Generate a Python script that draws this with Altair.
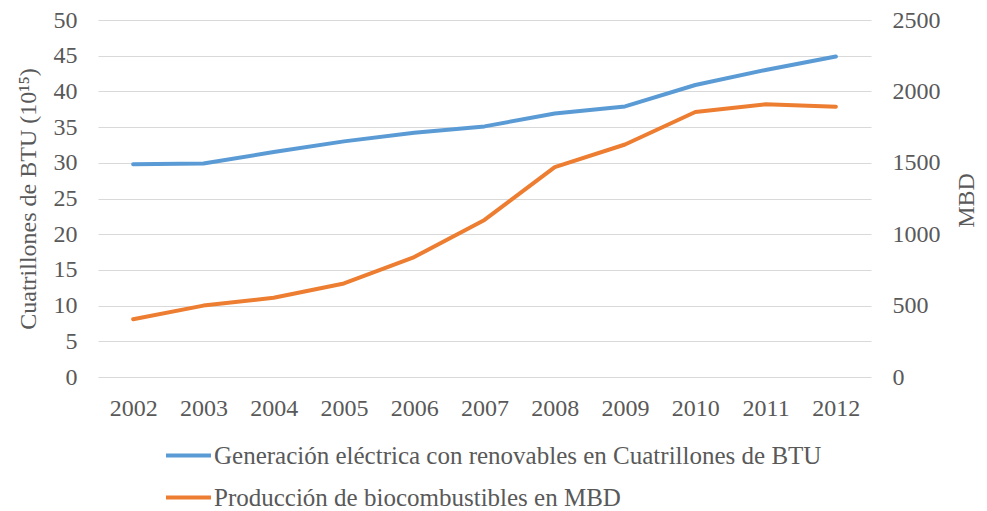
import altair as alt
import pandas as pd

years = ["2002", "2003", "2004", "2005", "2006", "2007", "2008", "2009", "2010", "2011", "2012"]
renovables = [29.8, 29.9, 31.5, 33.0, 34.2, 35.1, 36.9, 37.9, 40.9, 43.0, 44.9]
biocombustibles = [405, 500, 555, 655, 840, 1100, 1470, 1628, 1856, 1910, 1893]
series_names = [
    "Generación eléctrica con renovables en Cuatrillones de BTU",
    "Producción de biocombustibles en MBD",
]
colors = ["#5B9BD5", "#ED7D31"]
left_ticks = [0, 5, 10, 15, 20, 25, 30, 35, 40, 45, 50]
right_ticks = [0, 500, 1000, 1500, 2000, 2500]

df = pd.DataFrame({
    "year": years * 2,
    "serie": [series_names[0]] * len(years) + [series_names[1]] * len(years),
    "value": renovables + biocombustibles,
})

FONT = "Liberation Serif"
GREY = "#595959"

x = alt.X(
    "year:O", title=None,
    scale=alt.Scale(type="point", padding=0.5),
    axis=alt.Axis(labelAngle=0, ticks=False, domain=False, grid=False,
                  labelPadding=19, labelFont=FONT, labelFontSize=24, labelColor=GREY),
)

color = alt.Color(
    "serie:N",
    scale=alt.Scale(domain=series_names, range=colors),
    legend=alt.Legend(
        title=None, orient="none", legendX=66, legendY=411, direction="vertical",
        symbolType="stroke", symbolSize=2025, symbolStrokeWidth=4,
        labelFont=FONT, labelFontSize=25, labelColor=GREY, rowPadding=4,
        labelOffset=1, labelLimit=0,
    ),
)

base = alt.Chart(df)

left = base.transform_filter(alt.datum.serie == series_names[0]).mark_line(
    strokeWidth=4, strokeCap="round", strokeJoin="round"
).encode(
    x=x,
    y=alt.Y("value:Q", scale=alt.Scale(domain=[0, 50], nice=False),
            axis=alt.Axis(title="Cuatrillones de BTU (10¹⁵)", values=left_ticks,
                          grid=True, gridColor="#D9D9D9", gridWidth=1,
                          domain=False, ticks=False, labelPadding=21,
                          labelFont=FONT, labelFontSize=24, labelColor=GREY,
                          titleFont=FONT, titleFontSize=24, titleColor=GREY,
                          titleFontWeight="normal", titlePadding=13)),
    color=color,
)

right = base.transform_filter(alt.datum.serie == series_names[1]).mark_line(
    strokeWidth=4, strokeCap="round", strokeJoin="round"
).encode(
    x=x,
    y=alt.Y("value:Q", scale=alt.Scale(domain=[0, 2500], nice=False),
            axis=alt.Axis(title="MBD", orient="right", values=right_ticks, format="d",
                          grid=False, domain=False, ticks=False, labelPadding=21,
                          labelFont=FONT, labelFontSize=24, labelColor=GREY,
                          titleFont=FONT, titleFontSize=24, titleColor=GREY,
                          titleFontWeight="normal", titleAngle=270,
                          titleBaseline="middle", titleAlign="center",
                          titleX=95, titleY=180)),
    color=color,
)

chart = alt.layer(left, right).resolve_scale(y="independent").properties(
    width=773, height=357,
    autosize=alt.AutoSizeParams(type="none"),
    padding={"left": 90, "top": 12, "right": 108, "bottom": 134},
    background="white",
).configure_view(stroke=None)

chart.save("out.html", embed_options={"renderer": "svg", "actions": False})
